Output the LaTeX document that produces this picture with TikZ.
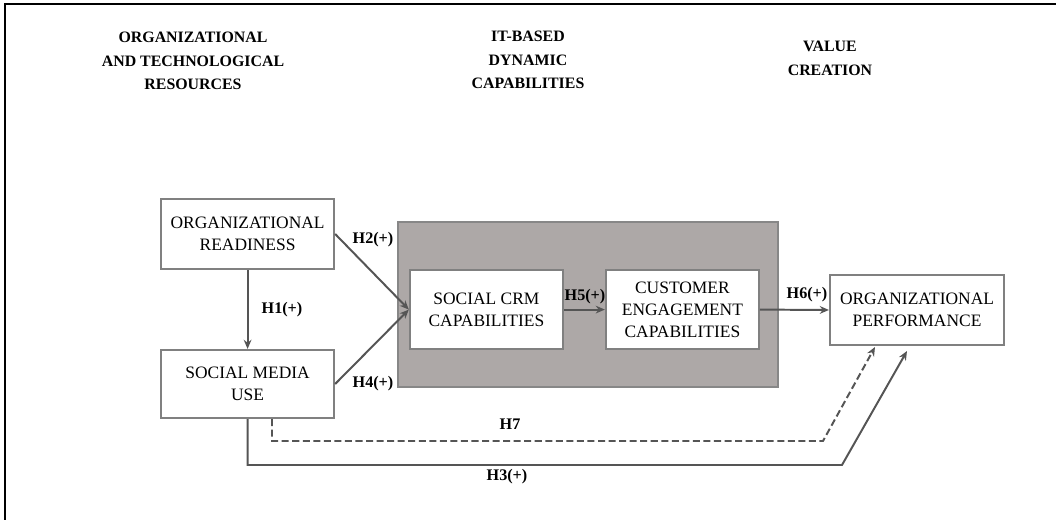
\documentclass[tikz,border=0pt]{standalone}
\usepackage{fontspec}
\setmainfont{Liberation Serif}
\usetikzlibrary{arrows.meta,calc}

\definecolor{boxline}{RGB}{128,128,128}
\definecolor{grpfill}{RGB}{173,168,167}
\definecolor{grpline}{RGB}{135,135,135}
\definecolor{arrline}{RGB}{85,85,85}

\tikzset{
    box/.style={draw=boxline, line width=1.5pt, fill=white, align=center, inner sep=2pt,
        font=\fontsize{12.4}{15.6}\selectfont},
    head/.style={align=center, font=\fontsize{11.3}{16.6}\selectfont\bfseries},
    hyp/.style={font=\fontsize{11.5}{13}\selectfont\bfseries},
    arr/.style={draw=arrline, line width=1.4pt, -{Stealth[length=6.5pt,width=5.5pt]}}
}

\begin{document}
\begin{tikzpicture}
                \useasboundingbox (0,0) rectangle (26.4,13);
                % open frame
                \draw[line width=1.5pt] (0.125,0) -- (0.125,12.9) -- (26.4,12.9);

                % column headings
                \node[head] (h0) at (4.825,11.475) {ORGANIZATIONAL\\AND TECHNOLOGICAL\\RESOURCES};
                \node[head] (h1) at (13.2,11.5) {IT-BASED\\DYNAMIC\\CAPABILITIES};
                \node[head] (h2) at (20.75,11.54) {VALUE\\CREATION};

                % capabilities block
                \draw[draw=grpline, line width=1.3pt, fill=grpfill] (9.95,3.325) rectangle (19.45,7.45);

                \node[box, minimum width=4.325cm, minimum height=1.75cm] (orr) at (6.19,7.15) {ORGANIZATIONAL\\READINESS};
                \node[box, minimum width=4.325cm, minimum height=1.7cm] (smu) at (6.19,3.4) {SOCIAL MEDIA\\USE};
                \node[box, minimum width=3.825cm, minimum height=1.975cm] (crm) at (12.16,5.26) {SOCIAL CRM\\CAPABILITIES};
                \node[box, minimum width=3.825cm, minimum height=1.975cm] (ce) at (17.06,5.26) {CUSTOMER\\ENGAGEMENT\\CAPABILITIES};
                \node[box, minimum width=4.35cm, minimum height=1.75cm] (op) at (22.925,5.25) {ORGANIZATIONAL\\PERFORMANCE};

                \draw[arr] (orr.south) -- (smu.north);
                \draw[arr] (orr.east) -- (crm.west);
                \draw[arr] (smu.east) -- (crm.west);
                \draw[arr] (crm.east) -- (ce.west);
                \draw[arr] (ce.east) -- (op.west);

                % indirect paths to performance
                \coordinate (h7a) at ($(smu.south)+(0.61,0)$);
                \coordinate (h7b) at (20.575,1.975);
                \coordinate (h7c) at (21.875,4.325);
                \draw[arr, dash pattern=on 5pt off 2.5pt] (h7a) |- (h7b) -- (h7c);
                \coordinate (h3b) at (21.05,1.375);
                \coordinate (h3c) at (22.675,4.225);
                \draw[arr] (smu.south) |- (h3b) -- (h3c);

                \node[hyp] (l1) at (7.05,5.25) {H1(+)};
                \node[hyp] (l2) at (9.325,7.0) {H2(+)};
                \node[hyp] (l4) at (9.325,3.4) {H4(+)};
                \node[hyp] (l5) at (14.625,5.575) {H5(+)};
                \node[hyp] (l6) at (20.175,5.625) {H6(+)};
                \node[hyp] (l7) at (12.75,2.4) {H7};
                \node[hyp] (l3) at (12.675,1.075) {H3(+)};
            \end{tikzpicture}
\end{document}
